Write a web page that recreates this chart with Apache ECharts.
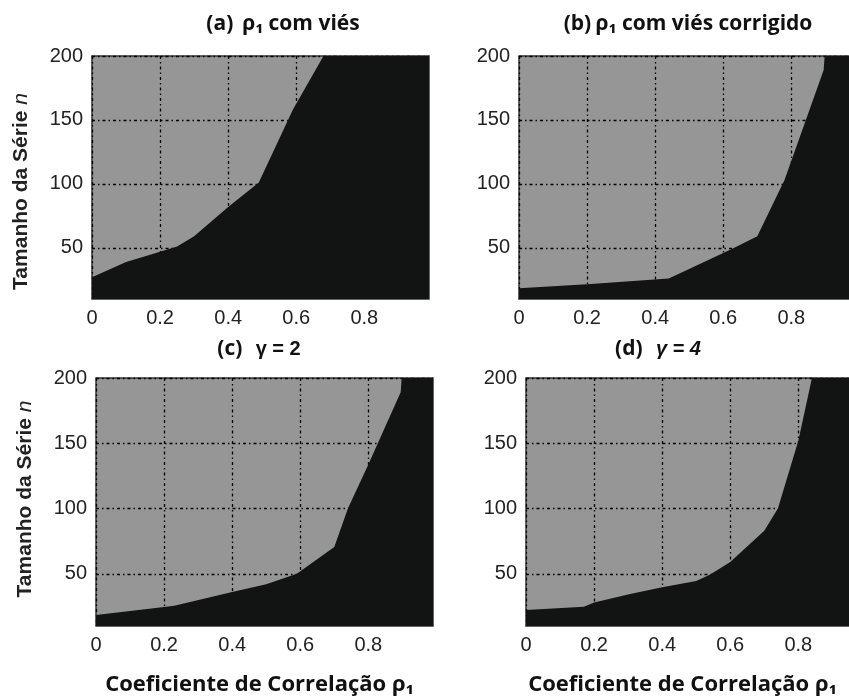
<!DOCTYPE html>
<html>
<head>
<meta charset="utf-8">
<script src="https://cdn.jsdelivr.net/npm/echarts@6/dist/echarts.min.js"></script>
<style>html,body{margin:0;padding:0;background:#fff}#c{width:849px;height:699px}</style>
</head>
<body>
<div id="c"></div>
<script>
// x ticks and y ticks
var xTicks = [0, 0.2, 0.4, 0.6, 0.8];
var yTicks = [50, 100, 150, 200];
var xMin = 0, xMax = 0.99, yMin = 10, yMax = 200;

// boundary (rho1, n) for each panel
var boundaryA = [[0,27],[0.1,39],[0.2,47],[0.25,51],[0.3,59],[0.4,82],[0.49,101],[0.59,158],[0.68,200],[0.99,200]];
var boundaryB = [[0,18.5],[0.2,21.5],[0.44,26],[0.6,46],[0.64,51],[0.70,59],[0.78,103],[0.895,189],[0.898,200],[0.99,200]];
var boundaryC = [[0,18.5],[0.2,24.5],[0.23,25.5],[0.4,36],[0.5,42],[0.59,50],[0.70,70.5],[0.74,100],[0.797,132],[0.895,189],[0.898,200],[0.99,200]];
var boundaryD = [[0,22.3],[0.17,24.8],[0.2,28],[0.306,34.6],[0.4,39.7],[0.5,44.4],[0.54,49.2],[0.6,59],[0.70,83],[0.74,100],[0.8,152],[0.84,200],[0.99,200]];

var titles = ['(a)', '(b)', '(c)', '(d)'];
var titleTexts = ['ρ₁ com viés', 'ρ₁ com viés corrigido', 'γ = 2', 'γ = 4'];
var xName = 'Coeficiente de Correlação ρ₁';
var yName = 'Tamanho da Série';

var boundaries = [boundaryA, boundaryB, boundaryC, boundaryD];

var grids = [
  {left: 92, top: 56, width: 337, height: 243},
  {left: 519, top: 56, width: 337, height: 243},
  {left: 96, top: 378, width: 337, height: 248},
  {left: 526, top: 378, width: 337, height: 248}
];
var titlePos = [[278, 9], [683, 9], [254, 334], [653, 334]];
var xNamePad = [[0,0,0,0],[0,0,0,0],[0,10,0,0],[0,24,0,0]];
var yNamePad = [[0,28,0,0],[0,0,0,0],[0,0,0,6],[0,0,0,0]];

var chart = echarts.init(document.getElementById('c'), null, {renderer: 'canvas'});
var option = {
  backgroundColor: '#ffffff',
  animation: false,
  title: titles.map(function (t, i) {
    var mathy = i >= 2;
    return {
      text: '{a|' + t + '}' + (mathy ? '{s|   }{g|' + titleTexts[i] + '}' : (i === 0 ? '{s|  }' : '{s| }') + '{a|' + titleTexts[i] + '}'),
      left: titlePos[i][0], top: titlePos[i][1], textAlign: 'center',
      textStyle: {
        rich: {
          a: {fontFamily: 'Open Sans', fontWeight: 'bold', fontSize: 21, color: '#111'},
          s: {fontSize: 16},
          g: {fontFamily: 'Liberation Sans', fontSize: 20, color: '#111', fontStyle: i === 3 ? 'italic' : 'normal'}
        }
      }
    };
  }),
  grid: grids.map(function (g) {
    return Object.assign({show: true, outerBoundsMode: 'none', containLabel: false,
      backgroundColor: '#969696', borderColor: '#333', borderWidth: 1.5}, g);
  }),
  xAxis: grids.map(function (g, i) {
    return {
      type: 'value', gridIndex: i, min: xMin, max: xMax,
      name: i >= 2 ? xName : '', nameLocation: 'middle', nameGap: 48,
      nameTextStyle: {fontFamily: 'Open Sans', fontWeight: 'bold', fontSize: 22, color: '#111', padding: xNamePad[i]},
      axisLine: {show: false},
      axisTick: {show: false, customValues: xTicks},
      axisLabel: {customValues: xTicks, margin: 9, fontFamily: 'Liberation Sans', fontSize: 20, color: '#222',
        formatter: function (v) { return String(v); }},
      splitLine: {show: true, lineStyle: {color: '#000', width: 1.3, type: [3, 3, 1.5, 3]}}
    };
  }),
  yAxis: grids.map(function (g, i) {
    return {
      type: 'value', gridIndex: i, min: yMin, max: yMax,
      name: (i % 2 === 0) ? '{b|' + yName + ' }{n|n}' : '',
      nameLocation: 'middle', nameGap: 60, nameRotate: 90,
      nameTextStyle: {padding: yNamePad[i], rich: {
        b: {fontFamily: 'Liberation Sans', fontWeight: 'bold', fontSize: 21, color: '#222'},
        n: {fontFamily: 'Liberation Sans', fontStyle: 'italic', fontSize: 21, color: '#222'}
      }},
      axisLine: {show: false},
      axisTick: {show: false, customValues: yTicks},
      axisLabel: {customValues: yTicks, margin: 9, fontFamily: 'Liberation Sans', fontSize: 20, color: '#222'},
      splitLine: {show: true, lineStyle: {color: '#000', width: 1.3, type: [3, 3, 1.5, 3]}}
    };
  }),
  series: boundaries.map(function (b, i) {
    return {
      type: 'line', xAxisIndex: i, yAxisIndex: i, data: b,
      symbol: 'none', silent: true, clip: true,
      lineStyle: {width: 0},
      areaStyle: {color: '#121414', opacity: 1, origin: 'start'}
    };
  })
};
chart.setOption(option);
</script>
</body>
</html>
